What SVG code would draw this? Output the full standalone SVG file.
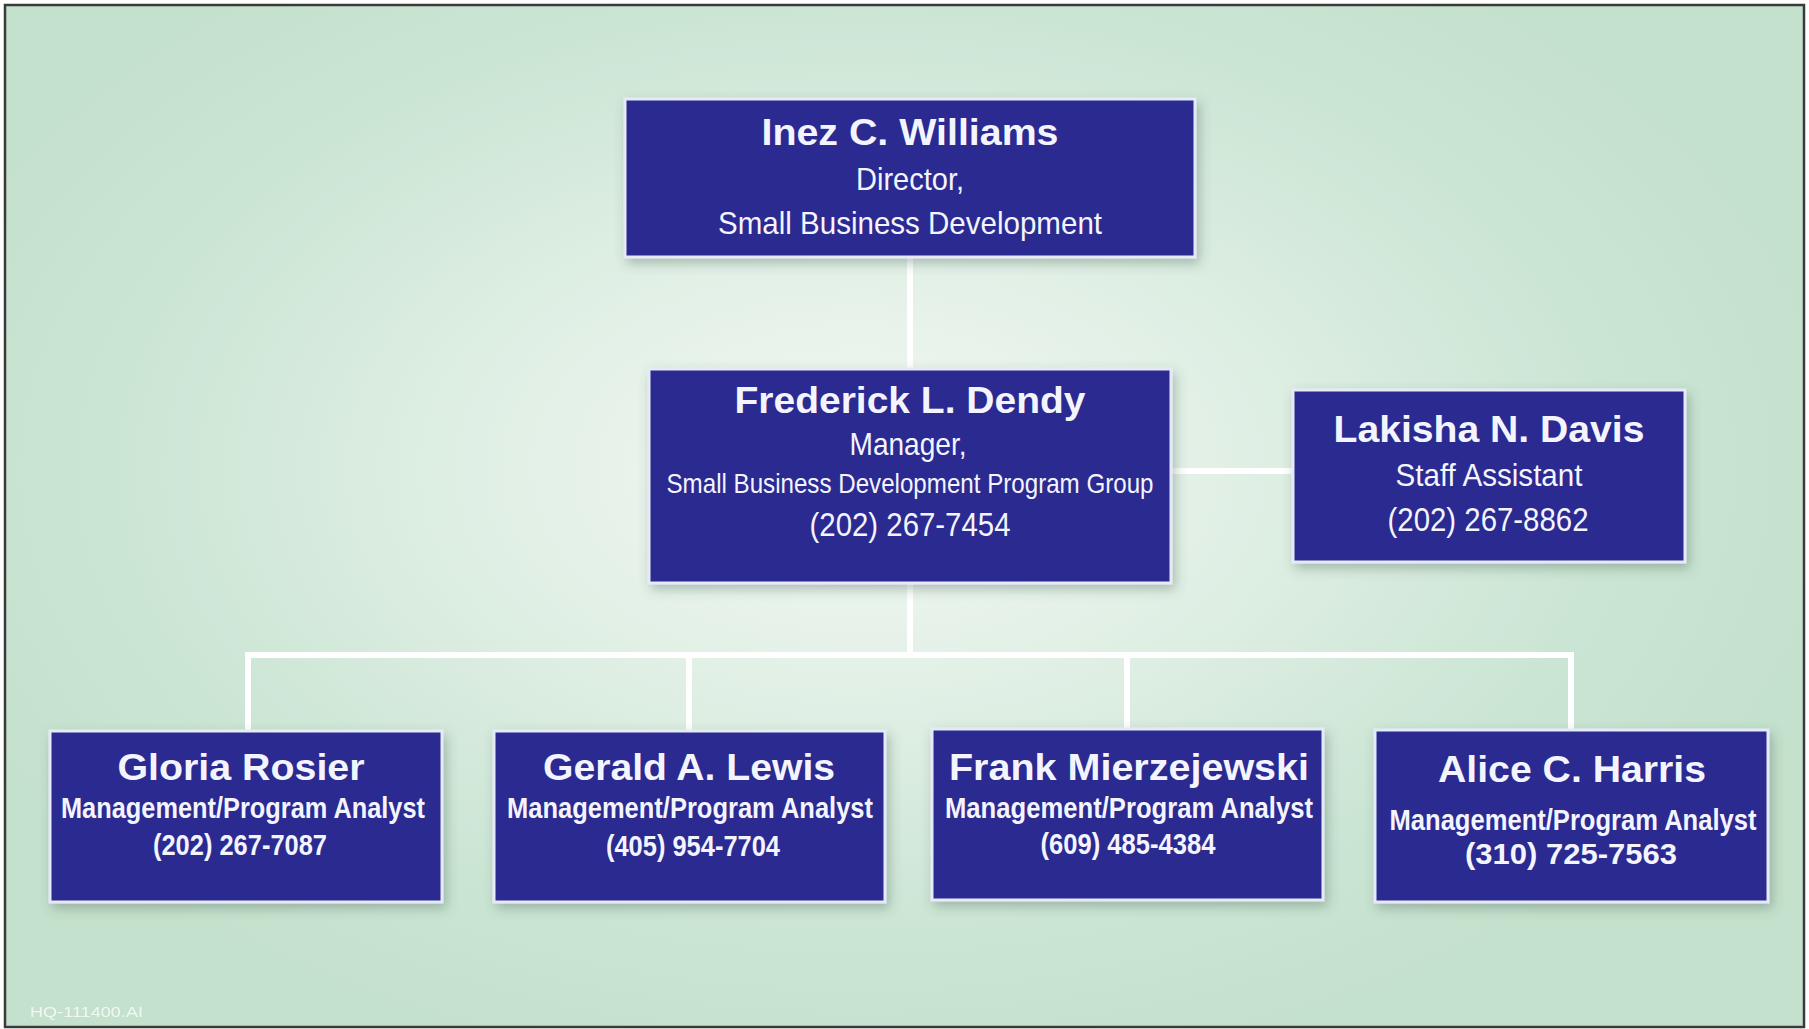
<svg xmlns="http://www.w3.org/2000/svg" width="1809" height="1029" viewBox="0 0 1809 1029">
  <defs>
    <radialGradient id="bg" cx="860" cy="470" r="1000" gradientUnits="userSpaceOnUse" gradientTransform="translate(860 470) scale(1 0.62) translate(-860 -470)">
      <stop offset="0" stop-color="#f3f8f4"/>
      <stop offset="0.35" stop-color="#e2f0e6"/>
      <stop offset="0.75" stop-color="#cbe5d4"/>
      <stop offset="1" stop-color="#c4e1cd"/>
    </radialGradient>
    <filter id="shadow" x="-10%" y="-15%" width="125%" height="140%">
      <feDropShadow dx="3" dy="5" stdDeviation="6" flood-color="#3c5a48" flood-opacity="0.35"/>
    </filter>
  </defs>
  <style>
    .box { fill: #2b2c91; stroke: #e6e9f7; stroke-width: 3; filter: url(#shadow); }
    .conn { stroke: #ffffff; stroke-width: 6; fill: none; stroke-linecap: square; }
    text { font-family: "Liberation Sans", Arial, sans-serif; fill: #f4f4ff; text-anchor: middle; }
    .name { font-weight: bold; font-size: 37px; }
    .role { font-size: 32px; }
    .sub { font-size: 28px; }
    .phone { font-size: 34px; }
    .brole { font-weight: bold; font-size: 29px; }
    .bphone { font-weight: bold; font-size: 30px; }
  </style>

  <rect x="0" y="0" width="1809" height="1029" fill="#ffffff"/>
  <rect x="5" y="5" width="1799" height="1022" fill="url(#bg)" stroke="#3a3a3a" stroke-width="2.5"/>

  <g id="connectors">
    <line class="conn" x1="910" y1="257" x2="910" y2="369"/>
    <line class="conn" x1="1172" y1="471" x2="1293" y2="471"/>
    <line class="conn" x1="910" y1="583" x2="910" y2="655"/>
    <polyline class="conn" points="248,730 248,655 1571,655 1571,730"/>
    <line class="conn" x1="689" y1="655" x2="689" y2="730"/>
    <line class="conn" x1="1127" y1="655" x2="1127" y2="730"/>
  </g>

  <g id="node-williams">
    <rect class="box" x="625" y="99" width="570" height="158"/>
    <text class="name" x="910" y="145" textLength="297" lengthAdjust="spacingAndGlyphs">Inez C. Williams</text>
    <text class="role" x="910" y="190" textLength="108" lengthAdjust="spacingAndGlyphs">Director,</text>
    <text class="role" x="910" y="234" textLength="384" lengthAdjust="spacingAndGlyphs">Small Business Development</text>
  </g>

  <g id="node-dendy">
    <rect class="box" x="649" y="369" width="522" height="214"/>
    <text class="name" x="910" y="413" textLength="351" lengthAdjust="spacingAndGlyphs">Frederick L. Dendy</text>
    <text class="role" x="908" y="455" textLength="117" lengthAdjust="spacingAndGlyphs">Manager,</text>
    <text class="sub" x="910" y="493" textLength="487" lengthAdjust="spacingAndGlyphs">Small Business Development Program Group</text>
    <text class="phone" x="910" y="536" textLength="201" lengthAdjust="spacingAndGlyphs">(202) 267-7454</text>
  </g>

  <g id="node-davis">
    <rect class="box" x="1293" y="390" width="392" height="172"/>
    <text class="name" x="1489" y="442" textLength="311" lengthAdjust="spacingAndGlyphs">Lakisha N. Davis</text>
    <text class="role" x="1489" y="486" textLength="187" lengthAdjust="spacingAndGlyphs">Staff Assistant</text>
    <text class="phone" x="1488" y="531" textLength="201" lengthAdjust="spacingAndGlyphs">(202) 267-8862</text>
  </g>

  <g id="node-rosier">
    <rect class="box" x="50" y="731" width="392" height="171"/>
    <text class="name" x="241" y="780" textLength="247" lengthAdjust="spacingAndGlyphs">Gloria Rosier</text>
    <text class="brole" x="243" y="818" textLength="364" lengthAdjust="spacingAndGlyphs">Management/Program Analyst</text>
    <text class="bphone" x="240" y="855" textLength="174" lengthAdjust="spacingAndGlyphs">(202) 267-7087</text>
  </g>

  <g id="node-lewis">
    <rect class="box" x="494" y="731" width="391" height="171"/>
    <text class="name" x="689" y="780" textLength="292" lengthAdjust="spacingAndGlyphs">Gerald A. Lewis</text>
    <text class="brole" x="690" y="818" textLength="366" lengthAdjust="spacingAndGlyphs">Management/Program Analyst</text>
    <text class="bphone" x="693" y="856" textLength="174" lengthAdjust="spacingAndGlyphs">(405) 954-7704</text>
  </g>

  <g id="node-mierzejewski">
    <rect class="box" x="932" y="729" width="391" height="171"/>
    <text class="name" x="1129" y="780" textLength="360" lengthAdjust="spacingAndGlyphs">Frank Mierzejewski</text>
    <text class="brole" x="1129" y="818" textLength="368" lengthAdjust="spacingAndGlyphs">Management/Program Analyst</text>
    <text class="bphone" x="1128" y="854" textLength="175" lengthAdjust="spacingAndGlyphs">(609) 485-4384</text>
  </g>

  <g id="node-harris">
    <rect class="box" x="1375" y="730" width="393" height="172"/>
    <text class="name" x="1572" y="782" textLength="268" lengthAdjust="spacingAndGlyphs">Alice C. Harris</text>
    <text class="brole" x="1573" y="830" textLength="367" lengthAdjust="spacingAndGlyphs">Management/Program Analyst</text>
    <text class="bphone" x="1571" y="864" font-size="33" textLength="212" lengthAdjust="spacingAndGlyphs">(310) 725-7563</text>
  </g>

  <text x="30" y="1017" font-size="14" style="text-anchor:start;fill:#ffffff;opacity:0.75" textLength="113" lengthAdjust="spacingAndGlyphs">HQ-111400.AI</text>
</svg>
